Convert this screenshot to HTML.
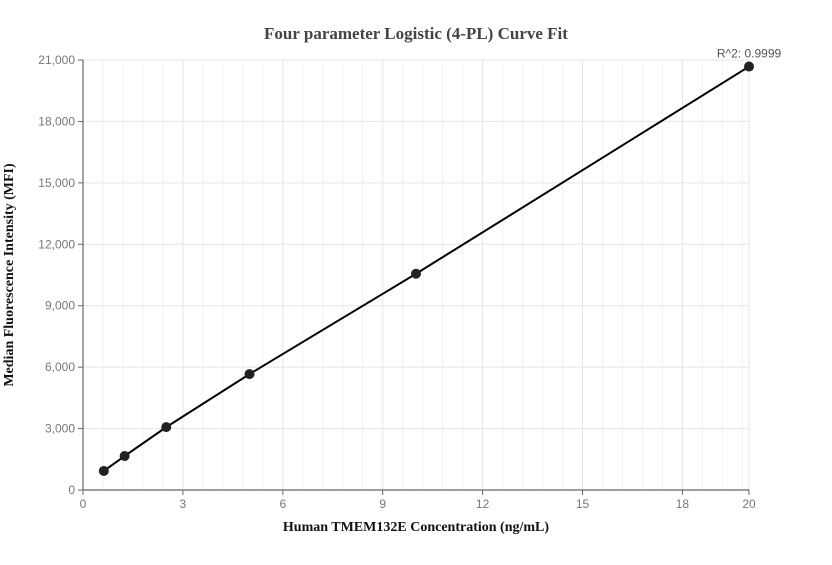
<!DOCTYPE html>
<html><head><meta charset="utf-8"><style>
body{margin:0;background:#fff;}
svg text{font-family:"Liberation Sans",sans-serif;}
</style></head><body>
<svg id="chart" width="832" height="560" xmlns="http://www.w3.org/2000/svg">
<text x="416" y="39" text-anchor="middle" style="font-family:'Liberation Serif',serif;font-weight:bold;font-size:17px;fill:#444">Four parameter Logistic (4-PL) Curve Fit</text>
<text x="416" y="531" text-anchor="middle" style="font-family:'Liberation Serif',serif;font-weight:bold;font-size:14px;fill:#111">Human TMEM132E Concentration (ng/mL)</text>
<text transform="translate(13,275) rotate(-90)" text-anchor="middle" style="font-family:'Liberation Serif',serif;font-weight:bold;font-size:14px;fill:#111">Median Fluorescence Intensity (MFI)</text>
<g id="grid"></g><g id="axes"></g><g id="marks"></g>
</svg>
<script>
const xTicks=[0,3,6,9,12,15,18,20];
const yTicks=[0,3000,6000,9000,12000,15000,18000,21000];
const concentrations=[0.625,1.25,2.5,5,10,20];
const mfiValues=[930,1660,3070,5660,10560,20680];
const r2Label="R^2: 0.9999";
const X0=83,X1=749,Y0=490,Y1=60;
const xs=v=>X0+(v/20)*(X1-X0);
const ys=v=>Y0-(v/21000)*(Y0-Y1);
const NS="http://www.w3.org/2000/svg";
function mk(t,a,p){const e=document.createElementNS(NS,t);for(const k in a)e.setAttribute(k,a[k]);p.appendChild(e);return e;}
const grid=document.getElementById('grid'),axes=document.getElementById('axes'),marks=document.getElementById('marks');
for(let v=0.6;v<20;v+=0.6){if(Math.abs(v/3-Math.round(v/3))<1e-6)continue;const l=mk('line',{x1:xs(v),x2:xs(v),y1:Y1,y2:Y0,stroke:'#f0f2f6','stroke-width':1},grid);

}
xTicks.forEach(v=>{const l=mk('line',{x1:xs(v),x2:xs(v),y1:Y1,y2:Y0,stroke:'#e1e5ed','stroke-width':1},grid);


const t=mk('line',{x1:xs(v),x2:xs(v),y1:Y0,y2:Y0+5,stroke:'#666'},axes);


const tx=mk('text',{x:xs(v),y:Y0+18,'text-anchor':'middle','font-size':12,fill:'#777'},axes);tx.textContent=v;

});
yTicks.forEach(v=>{const l=mk('line',{x1:X0,x2:X1,y1:ys(v),y2:ys(v),stroke:'#e1e5ed','stroke-width':1},grid);


const t=mk('line',{x1:X0-5,x2:X0,y1:ys(v),y2:ys(v),stroke:'#666'},axes);


const tx=mk('text',{x:X0-8,y:ys(v)+4,'text-anchor':'end','font-size':12,fill:'#777'},axes);tx.textContent=v.toLocaleString('en-US');

});
const ax=mk('path',{d:`M${X0},${Y1}V${Y0}H${X1}`,fill:'none',stroke:'#666','stroke-width':1.2},axes);


const pl=mk('polyline',{points:concentrations.map((c,i)=>xs(c)+','+ys(mfiValues[i])).join(' '),fill:'none',stroke:'#000','stroke-width':2},marks);


concentrations.forEach((c,i)=>{const p=mk('circle',{cx:xs(c),cy:ys(mfiValues[i]),r:5,fill:'#222'},marks);

});
const last=concentrations.length-1;
const r=mk('text',{x:xs(concentrations[last]),y:ys(mfiValues[last])-9,'text-anchor':'middle','font-size':12,fill:'#555'},marks);r.textContent=r2Label;


</script>
</body></html>
